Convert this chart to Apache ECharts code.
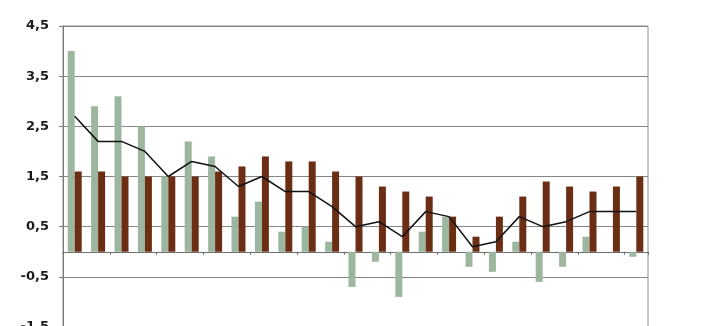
<!DOCTYPE html>
<html>
<head>
<meta charset="utf-8">
<script src="https://cdn.jsdelivr.net/npm/echarts@6/dist/echarts.min.js"></script>
<style>html,body{margin:0;padding:0;background:#fff;}#c{width:712px;height:326px;}</style>
</head>
<body>
<div id="c"></div>
<script>
var categories = ['1','2','3','4','5','6','7','8','9','10','11','12','13','14','15','16','17','18','19','20','21','22','23','24','25'];
var greenValues = [4.0, 2.9, 3.1, 2.5, 1.5, 2.2, 1.9, 0.7, 1.0, 0.4, 0.5, 0.2, -0.7, -0.2, -0.9, 0.4, 0.7, -0.3, -0.4, 0.2, -0.6, -0.3, 0.3, 0.0, -0.1];
var brownValues = [1.6, 1.6, 1.5, 1.5, 1.5, 1.5, 1.6, 1.7, 1.9, 1.8, 1.8, 1.6, 1.5, 1.3, 1.2, 1.1, 0.7, 0.3, 0.7, 1.1, 1.4, 1.3, 1.2, 1.3, 1.5];
var lineValues = [2.7, 2.2, 2.2, 2.0, 1.5, 1.8, 1.7, 1.3, 1.5, 1.2, 1.2, 0.9, 0.5, 0.6, 0.3, 0.8, 0.7, 0.1, 0.2, 0.7, 0.5, 0.6, 0.8, 0.8, 0.8];

var chart = echarts.init(document.getElementById('c'), null, {renderer: 'canvas'});
chart.setOption({
  animation: false,
  backgroundColor: '#ffffff',
  grid: {left: 63, right: 64, top: 26, height: 301, outerBoundsMode: 'none', containLabel: false,
         show: true, borderColor: '#8c8c8c', borderWidth: 1},
  xAxis: {
    type: 'category',
    data: categories,
    boundaryGap: true,
    axisLine: {onZero: true, lineStyle: {color: '#6e6e6e', width: 1}},
    axisTick: {show: true, interval: 1, length: 3, inside: false, lineStyle: {color: '#6e6e6e'}},
    axisLabel: {show: false},
    splitLine: {show: false}
  },
  yAxis: {
    type: 'value',
    min: -1.5, max: 4.5, interval: 1,
    axisLine: {show: true, lineStyle: {color: '#7a7a7a', width: 1}},
    axisTick: {show: true, length: 4, lineStyle: {color: '#7a7a7a'}},
    axisLabel: {
      margin: 14,
      color: '#1a1a1a',
      fontFamily: 'DejaVu Sans',
      fontWeight: 'bold',
      fontSize: 13,
      formatter: function (v) { return String(v).replace('.', ','); }
    },
    splitLine: {show: true, lineStyle: {color: '#858585', width: 1.2}}
  },
  series: [
    {
      type: 'bar', data: greenValues, barWidth: 7, barGap: '0%',
      itemStyle: {color: '#9db6a0'}
    },
    {
      type: 'bar', data: brownValues, barWidth: 7, barGap: '0%',
      itemStyle: {color: '#6b2e15'}
    },
    {
      type: 'line', data: lineValues, symbol: 'none', z: 5,
      lineStyle: {color: '#111111', width: 1.5}
    }
  ]
});
</script>
</body>
</html>
